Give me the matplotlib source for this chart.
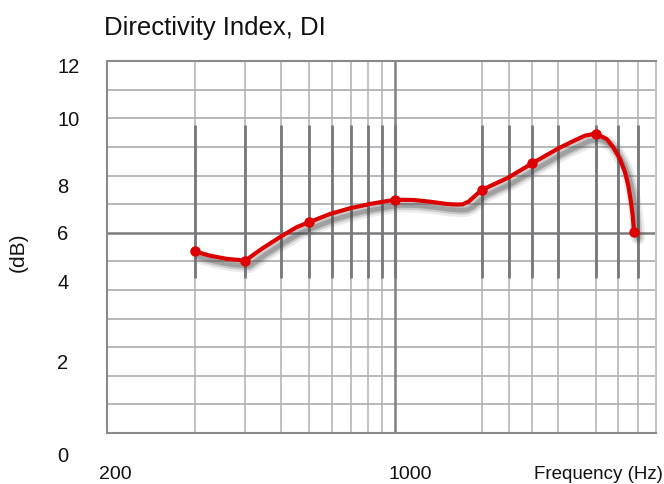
import numpy as np
import matplotlib
matplotlib.use('Agg')
import matplotlib.pyplot as plt
import matplotlib.patheffects as pe

plt.rcParams['font.family'] = ['Liberation Sans', 'DejaVu Sans']

## Measured points (Hz, dB)
mark_freq = [200, 300, 500, 1000, 2000, 3000, 5000, 6800]
mark_db = [5.35, 5.03, 6.37, 7.16, 7.50, 8.43, 9.47, 6.02]

## Curve
curve_freq = [200, 226, 258, 300, 342, 396, 453, 500, 592, 695, 816, 1000,
	1156, 1321, 1510, 1637, 1720, 1800, 1871, 2000, 2466, 3000, 3715, 4178, 4588,
	5000, 5462, 5760, 6078, 6328, 6496, 6639, 6730, 6800]
curve_db = [5.35, 5.20, 5.09, 5.03, 5.44, 5.85, 6.20, 6.37, 6.66, 6.86, 7.01,
	7.16, 7.15, 7.09, 7.01, 6.99, 7.00, 7.09, 7.24, 7.50, 7.92, 8.43, 8.96, 9.21,
	9.40, 9.47, 9.28, 8.99, 8.58, 8.12, 7.65, 7.07, 6.60, 6.02]

## Grid
vgrid = [200, 300, 400, 500, 600, 700, 800, 900, 1000,
	2000, 2500, 3000, 3700, 5000, 6000, 7000]
hgrid = np.arange(0, 12)
band = (4.41, 9.77)

ytick_labels = ['12', '10', '8', '6', '4', '2', '0']
ytick_at = [11.83, 9.97, 7.62, 5.96, 4.27, 1.47, -1.78]
xtick_labels = ['200', '1000']

W, H = 664, 485
fig = plt.figure(figsize=(W/100, H/100), dpi=100)
ax = fig.add_axes([106.7/W, 1 - 434/H, 549/W, 371.7/H])
ax.set_xscale('log')
ax.set_xlim(98.5, 8095)
ax.set_ylim(-1, 12)

# horizontal lines
for y in hgrid:
	if y == 6:
		ax.axhline(y, color='#7c7c80', lw=1.8, zorder=1)
	else:
		ax.axhline(y, color='#a4a4a4', lw=1.1, zorder=1)

# vertical lines, full height light + dark band
for f in vgrid:
	if f == 1000:
		ax.axvline(f, color='#808084', lw=1.8, zorder=1)
	else:
		ax.axvline(f, color='#b0b0b0', lw=1.1, zorder=1)
ax.vlines(vgrid, band[0], band[1], color='#77787c', lw=2, zorder=2)

shadow = [pe.SimpleLineShadow(offset=(3, -4), shadow_color='#444444', alpha=0.10, linewidth=10),
	pe.SimpleLineShadow(offset=(3, -4), shadow_color='#444444', alpha=0.2, linewidth=6.5),
	pe.SimpleLineShadow(offset=(3, -4), shadow_color='#444444', alpha=0.3, linewidth=3.5),
	pe.Normal()]
ax.plot(curve_freq, curve_db, color='#dd0000', lw=3, solid_capstyle='round',
	solid_joinstyle='round', zorder=5, path_effects=shadow)
ax.plot(mark_freq, mark_db, 'o', color='#dd0000', ms=6.5, zorder=6)

ax.set_xticks([])
ax.set_yticks([])
ax.minorticks_off()
for s in ['left', 'bottom', 'top']:
	ax.spines[s].set_color('#8a8a8a')
	ax.spines[s].set_linewidth(1.5)
ax.spines['right'].set_color('#c4c4c4')
ax.spines['right'].set_linewidth(1.5)

ytr = ax.get_yaxis_transform()
for lab, y in zip(ytick_labels, ytick_at):
	ax.text(-0.0905, y, lab, transform=ytr, ha='left', va='center',
		fontsize=14.5, color='#111111')

fig.text(115/W, 1 - 474.5/H, xtick_labels[0], ha='center', va='center', fontsize=14, color='#111111')
fig.text(410/W, 1 - 474.5/H, xtick_labels[1], ha='center', va='center', fontsize=14, color='#111111')
fig.text(663/W, 1 - 474.5/H, 'Frequency (Hz)', ha='right', va='center', fontsize=13.5, color='#111111')
fig.text(18.5/W, 1 - 252/H, '(dB)', rotation=90, ha='center', va='center', fontsize=15, color='#111111')
fig.text(104/W, 1 - 35/H, 'Directivity Index, DI', ha='left', va='baseline', fontsize=18.5, color='#111111')

fig.savefig('out.png', dpi=100)
